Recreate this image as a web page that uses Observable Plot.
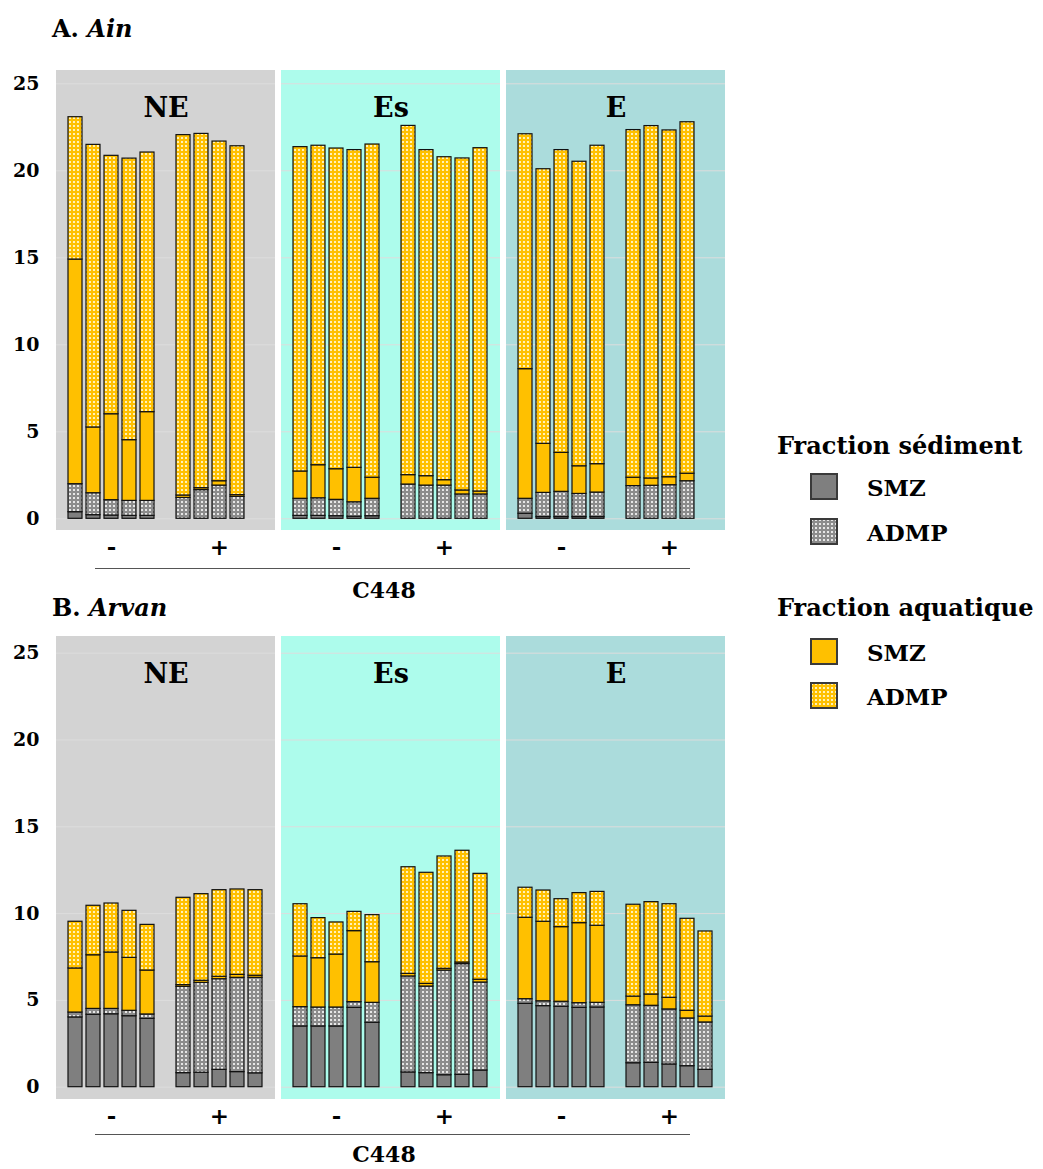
<!DOCTYPE html>
<html>
<head>
<meta charset="utf-8">
<script src="https://cdn.jsdelivr.net/npm/d3@7"></script>
<script src="https://cdn.jsdelivr.net/npm/@observablehq/plot@0.6"></script>
<style>
  html, body { margin: 0; padding: 0; background: #fff; }
  body { width: 1043px; height: 1169px; position: relative; overflow: hidden; font-family: "DejaVu Serif", serif; font-weight: bold; color: #000; }
  .abs { position: absolute; white-space: nowrap; }
  .title { font-size: 24px; line-height: 1; }
  .title i { font-style: italic; }
  .xline { position: absolute; height: 0; border-top: 1.5px solid #555; }
  .xlab { font-size: 22px; line-height: 1; transform: translate(-50%, -50%); }
  .leg-h { font-size: 24px; line-height: 1; transform: translateY(-50%); }
  .leg-t { font-size: 23px; line-height: 1; transform: translateY(-50%); }
  .sw { position: absolute; width: 28px; height: 27px; }
</style>
</head>
<body>
<svg width="0" height="0" style="position:absolute">
  <defs>
    <pattern id="pSed" width="4" height="4" patternUnits="userSpaceOnUse">
      <rect width="4" height="4" fill="#8c8c8c"></rect>
      <rect x="1" y="1" width="2" height="2" fill="#e6e6e6"></rect>
    </pattern>
    <pattern id="pAq" width="4" height="4" patternUnits="userSpaceOnUse">
      <rect width="4" height="4" fill="#ffc000"></rect>
      <rect x="1" y="1" width="2" height="2" fill="#fff1b8"></rect>
    </pattern>
  </defs>
</svg>

<div class="abs title" style="left:52px; top:17px;">A. <i>Ain</i></div>
<div class="abs title" style="left:52px; top:596px;">B. <i>Arvan</i></div>

<div id="plotA" class="abs" style="left:0; top:0;"></div>
<div id="plotB" class="abs" style="left:0; top:586px;"></div>

<div class="xline" style="left:95px; width:595px; top:568px;"></div>
<div class="abs xlab" style="left:384px; top:590px;">C448</div>
<div class="xline" style="left:95px; width:595px; top:1134px;"></div>
<div class="abs xlab" style="left:384px; top:1154px;">C448</div>

<div id="legend"></div>

<script>
// ---------- data ----------
const sites = ["NE", "Es", "E"];
const slots = ["-1", "-2", "-3", "-4", "-5", "gap", "+1", "+2", "+3", "+4", "+5"];
const yTicks = [0, 5, 10, 15, 20, 25];
const seriesKeys = ["Sédiment SMZ", "Sédiment ADMP", "Aquatique SMZ", "Aquatique ADMP"];
const seriesFills = ["#7f7f7f", "url(#pSed)", "#ffc000", "url(#pAq)"];
const bgColors = ["#d3d3d3", "#adfcec", "#abdcdc"];

// Panel A (Ain): bar groups [site, treatment, number of bars]
const ainGroups = [["NE", "-", 5], ["NE", "+", 4], ["Es", "-", 5], ["Es", "+", 5], ["E", "-", 5], ["E", "+", 4]];
const ainSedSMZ = [0.38, 0.21, 0.19, 0.17, 0.17,  0, 0, 0, 0,
                   0.17, 0.17, 0.15, 0.12, 0.15,  0, 0, 0, 0, 0,
                   0.29, 0.10, 0.10, 0.10, 0.10,  0, 0, 0, 0];
const ainSedADMP = [1.61, 1.26, 0.88, 0.86, 0.86,  1.20, 1.65, 1.91, 1.26,
                    0.98, 1.01, 0.94, 0.83, 1.00,  1.97, 1.91, 1.91, 1.40, 1.40,
                    0.86, 1.39, 1.45, 1.33, 1.41,  1.88, 1.90, 1.93, 2.16];
const ainAqSMZ = [12.91, 3.78, 4.94, 3.49, 5.10,  0.14, 0.11, 0.25, 0.10,
                  1.57, 1.90, 1.76, 1.98, 1.21,  0.54, 0.54, 0.31, 0.23, 0.17,
                  7.45, 2.82, 2.24, 1.59, 1.63,  0.48, 0.42, 0.46, 0.43];
const ainAqADMP = [8.18, 16.24, 14.85, 16.18, 14.92,  20.71, 20.36, 19.52, 20.05,
                   18.64, 18.36, 18.43, 18.26, 19.15,  20.07, 18.74, 18.56, 19.08, 19.73,
                   13.50, 15.78, 17.40, 17.50, 18.30,  19.98, 20.25, 19.93, 20.20];

// Panel B (Arvan)
const arvanGroups = [["NE", "-", 5], ["NE", "+", 5], ["Es", "-", 5], ["Es", "+", 5], ["E", "-", 5], ["E", "+", 5]];
const arvanSedSMZ = [4.02, 4.17, 4.20, 4.09, 3.94,  0.81, 0.83, 1.00, 0.87, 0.80,
                     3.50, 3.50, 3.50, 4.57, 3.71,  0.85, 0.81, 0.69, 0.71, 0.96,
                     4.80, 4.67, 4.63, 4.57, 4.59,  1.38, 1.40, 1.31, 1.21, 1.00];
const arvanSedADMP = [0.28, 0.34, 0.31, 0.31, 0.25,  4.97, 5.18, 5.22, 5.43, 5.50,
                      1.11, 1.09, 1.09, 0.33, 1.15,  5.53, 4.99, 6.03, 6.38, 5.07,
                      0.27, 0.28, 0.29, 0.27, 0.27,  3.34, 3.29, 3.17, 2.75, 2.73];
const arvanAqSMZ = [2.54, 3.09, 3.25, 3.05, 2.53,  0.10, 0.12, 0.14, 0.17, 0.12,
                    2.92, 2.84, 3.05, 4.09, 2.34,  0.15, 0.15, 0.10, 0.09, 0.16,
                    4.69, 4.58, 4.30, 4.61, 4.44,  0.50, 0.65, 0.67, 0.44, 0.34];
const arvanAqADMP = [2.69, 2.85, 2.82, 2.71, 2.63,  5.03, 4.99, 4.99, 4.92, 4.93,
                     3.01, 2.31, 1.85, 1.11, 2.71,  6.14, 6.40, 6.47, 6.44, 6.10,
                     1.73, 1.80, 1.61, 1.73, 1.95,  5.29, 5.32, 5.39, 5.30, 4.90];

// ---------- build ----------
function makeRows(groups, series) {
  const rows = [];
  let i = 0;
  for (const [site, trt, n] of groups) {
    for (let r = 1; r <= n; r++, i++) {
      seriesKeys.forEach((k, j) => {
        const v = series[j][i];
        if (v > 0) rows.push({site, slot: trt + r, series: k, value: v});
      });
    }
  }
  return rows;
}

function panel(rows, lo, hi, marginTop, height) {
  return Plot.plot({
    width: 730, height, marginLeft: 56, marginRight: 5, marginTop, marginBottom: 40,
    style: {background: "transparent", fontFamily: "DejaVu Serif", overflow: "visible"},
    fx: {domain: sites, padding: 0.027, axis: null, label: null},
    x: {domain: slots, paddingInner: 0.22, paddingOuter: 0.46, label: null},
    y: {domain: [lo, hi], label: null},
    color: {type: "ordinal", domain: seriesKeys, range: seriesFills},
    marks: [
      ...sites.map((s, i) => Plot.barY([s], {fx: d => d, y1: lo, y2: hi, fill: bgColors[i]})),
      Plot.gridY(yTicks, {stroke: "#dddddd", strokeOpacity: 1, strokeWidth: 1}),
      Plot.barY(rows, {fx: "site", x: "slot", y: "value", fill: "series", stroke: "#111", strokeWidth: 1.2}),
      Plot.text(sites, {fx: d => d, text: d => d, frameAnchor: "top", dy: 27, fontSize: 27, fontWeight: "bold"}),
      Plot.axisY({ticks: yTicks, tickSize: 0, tickPadding: 17, fontSize: 19, fontWeight: "bold", label: null}),
      Plot.axisX({ticks: ["-3", "+3"], tickFormat: d => d[0], tickSize: 0, tickPadding: 8, fontSize: 23, fontWeight: "bold", label: null})
    ]
  });
}

const rowsA = makeRows(ainGroups, [ainSedSMZ, ainSedADMP, ainAqSMZ, ainAqADMP]);
const rowsB = makeRows(arvanGroups, [arvanSedSMZ, arvanSedADMP, arvanAqSMZ, arvanAqADMP]);

// Panel A: frame 70..530 ; Panel B: frame 636..1099 (svg top at 586)
document.getElementById("plotA").append(panel(rowsA, -0.672, 25.764, 70, 570));
document.getElementById("plotB").append(panel(rowsB, -0.709, 25.962, 50, 553));

// ---------- legend ----------
const legendGroups = [
  {title: "Fraction sédiment", y: 446, items: [["SMZ", seriesFills[0], 487], ["ADMP", seriesFills[1], 532]]},
  {title: "Fraction aquatique", y: 608, items: [["SMZ", seriesFills[2], 652], ["ADMP", seriesFills[3], 696]]}
];
const leg = document.getElementById("legend");
for (const g of legendGroups) {
  const h = document.createElement("div");
  h.className = "abs leg-h";
  h.style.left = "777px"; h.style.top = g.y + "px";
  h.textContent = g.title;
  leg.append(h);
  for (const [label, fill, cy] of g.items) {
    const sw = document.createElementNS("http://www.w3.org/2000/svg", "svg");
    sw.setAttribute("class", "sw");
    sw.style.left = "810px"; sw.style.top = (cy - 14) + "px";
    sw.setAttribute("width", 28); sw.setAttribute("height", 27);
    sw.innerHTML = `<rect x="1" y="1" width="26" height="25" fill="${fill}" stroke="#3a3a3a" stroke-width="2"></rect>`;
    leg.append(sw);
    const t = document.createElement("div");
    t.className = "abs leg-t";
    t.style.left = "867px"; t.style.top = cy + "px";
    t.textContent = label;
    leg.append(t);
  }
}
</script>
</body>
</html>
